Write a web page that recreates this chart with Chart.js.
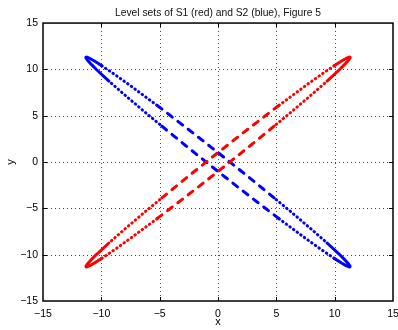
<!DOCTYPE html>
<html>
<head>
<meta charset="utf-8">
<script src="https://cdn.jsdelivr.net/npm/chart.js@4.4.1/dist/chart.umd.min.js"></script>
<style>
  html, body { margin: 0; padding: 0; background: #fff; overflow: hidden; }
  #wrap { width: 398px; height: 330px; }
</style>
</head>
<body>
<div id="wrap"><canvas id="levelSets" width="398" height="330"></canvas></div>
<script>
// Level set of S1 (red): thin closed curve along y = x
const redX = [11.31, 11.28, 11.20, 10.98, 10.59, 9.96, 8.74, 7.55, 6.38, 5.21, 4.06, 2.91, 1.76, 0.63, -0.51,
  -1.64, -2.76, -3.88, -4.99, -6.10, -7.19, -8.28, -9.35, -10.40, -10.90, -11.18, -11.30, -11.32, -11.31,
  -11.28, -11.20, -10.98, -10.59, -9.96, -8.74, -7.55, -6.38, -5.21, -4.06, -2.91, -1.76, -0.63, 0.51,
  1.64, 2.76, 3.88, 4.99, 6.10, 7.19, 8.28, 9.35, 10.40, 10.90, 11.18, 11.30, 11.32, 11.31];
const redY = [11.31, 11.32, 11.30, 11.18, 10.90, 10.40, 9.35, 8.28, 7.19, 6.10, 4.99, 3.88, 2.76, 1.64, 0.51,
  -0.63, -1.76, -2.91, -4.06, -5.21, -6.38, -7.55, -8.74, -9.96, -10.59, -10.98, -11.20, -11.28, -11.31,
  -11.32, -11.30, -11.18, -10.90, -10.40, -9.35, -8.28, -7.19, -6.10, -4.99, -3.88, -2.76, -1.64, -0.51,
  0.63, 1.76, 2.91, 4.06, 5.21, 6.38, 7.55, 8.74, 9.96, 10.59, 10.98, 11.20, 11.28, 11.31];

// Level set of S2 (blue): thin closed curve along y = -x
const blueX = [-11.31, -11.28, -11.20, -10.98, -10.59, -9.96, -8.74, -7.55, -6.38, -5.21, -4.06, -2.91, -1.76, -0.63, 0.51,
  1.64, 2.76, 3.88, 4.99, 6.10, 7.19, 8.28, 9.35, 10.40, 10.90, 11.18, 11.30, 11.32, 11.31,
  11.28, 11.20, 10.98, 10.59, 9.96, 8.74, 7.55, 6.38, 5.21, 4.06, 2.91, 1.76, 0.63, -0.51,
  -1.64, -2.76, -3.88, -4.99, -6.10, -7.19, -8.28, -9.35, -10.40, -10.90, -11.18, -11.30, -11.32, -11.31];
const blueY = [11.31, 11.32, 11.30, 11.18, 10.90, 10.40, 9.35, 8.28, 7.19, 6.10, 4.99, 3.88, 2.76, 1.64, 0.51,
  -0.63, -1.76, -2.91, -4.06, -5.21, -6.38, -7.55, -8.74, -9.96, -10.59, -10.98, -11.20, -11.28, -11.31,
  -11.32, -11.30, -11.18, -10.90, -10.40, -9.35, -8.28, -7.19, -6.10, -4.99, -3.88, -2.76, -1.64, -0.51,
  0.63, 1.76, 2.91, 4.06, 5.21, 6.38, 7.55, 8.74, 9.96, 10.59, 10.98, 11.20, 11.28, 11.31];

// Axis ticks (same on both axes)
const tickValues = [-15, -10, -5, 0, 5, 10, 15];
const gridValues = [-10, -5, 0, 5, 10];

const FONT = "'Liberation Sans', Arial, Helvetica, sans-serif";

const toPoints = (xs, ys) => xs.map((x, i) => ({ x: x, y: ys[i] }));

// markers are dense near the tips and broken into dashes in the middle
function segmentDash(ctx) {
  const mid = Math.abs(ctx.p0.parsed.x + ctx.p1.parsed.x) / 2;
  if (mid >= 9.5) return [];
  if (mid >= 5.5) return [0.5, 4];
  return [6, 7];
}

function fmtTick(value) {
  return value < 0 ? '\u2212' + Math.abs(value) : String(value);
}

// MATLAB style axes: dotted grid, box frame, inward tick marks
const matlabAxes = {
  id: 'matlabAxes',
  beforeDatasetsDraw(chart) {
    const { ctx, chartArea: a, scales: { x, y } } = chart;
    ctx.save();
    ctx.strokeStyle = '#444';
    ctx.lineWidth = 1;
    ctx.setLineDash([1, 3]);
    gridValues.forEach(v => {
      const px = Math.round(x.getPixelForValue(v)) + 0.5;
      ctx.beginPath();
      ctx.moveTo(px, a.top);
      ctx.lineTo(px, a.bottom);
      ctx.stroke();
      const py = Math.round(y.getPixelForValue(v)) + 0.5;
      ctx.beginPath();
      ctx.moveTo(a.left, py);
      ctx.lineTo(a.right, py);
      ctx.stroke();
    });
    ctx.restore();
  },
  afterDatasetsDraw(chart) {
    const { ctx, chartArea: a, scales: { x, y } } = chart;
    const len = 4;
    ctx.save();
    ctx.strokeStyle = '#000';
    ctx.lineWidth = 1;
    gridValues.forEach(v => {
      const px = Math.round(x.getPixelForValue(v)) + 0.5;
      ctx.beginPath();
      ctx.moveTo(px, a.bottom); ctx.lineTo(px, a.bottom - len);
      ctx.moveTo(px, a.top); ctx.lineTo(px, a.top + len);
      ctx.stroke();
      const py = Math.round(y.getPixelForValue(v)) + 0.5;
      ctx.beginPath();
      ctx.moveTo(a.left, py); ctx.lineTo(a.left + len, py);
      ctx.moveTo(a.right, py); ctx.lineTo(a.right - len, py);
      ctx.stroke();
    });
    ctx.lineWidth = 1.5;
    ctx.strokeRect(a.left, a.top, a.right - a.left, a.bottom - a.top);
    ctx.restore();
  }
};

const canvas = document.getElementById('levelSets');
const chart = new Chart(canvas.getContext('2d'), {
  type: 'scatter',
  data: {
    datasets: [
      {
        label: 'S1',
        data: toPoints(redX, redY),
        showLine: true,
        borderColor: '#ff0000',
        borderWidth: 3,
        borderCapStyle: 'round',
        borderJoinStyle: 'round',
        pointRadius: 0,
        tension: 0,
        order: 0,
        segment: { borderDash: segmentDash }
      },
      {
        label: 'S2',
        data: toPoints(blueX, blueY),
        showLine: true,
        borderColor: '#0000ff',
        borderWidth: 3,
        borderCapStyle: 'round',
        borderJoinStyle: 'round',
        pointRadius: 0,
        tension: 0,
        order: 1,
        segment: { borderDash: segmentDash }
      }
    ]
  },
  options: {
    responsive: false,
    animation: false,
    devicePixelRatio: 1,
    layout: { padding: { left: 0, right: 5, top: 0, bottom: 0 } },
    plugins: {
      legend: { display: false },
      tooltip: { enabled: false },
      title: {
        display: true,
        fullSize: false,
        text: 'Level sets of S1 (red) and S2 (blue), Figure 5',
        color: '#111',
        font: { family: FONT, size: 10.3, weight: 'normal', lineHeight: 1.2 },
        padding: { top: 6.5, bottom: 4.2 }
      }
    },
    scales: {
      x: {
        type: 'linear',
        min: -15,
        max: 15,
        afterBuildTicks: s => { s.ticks = tickValues.map(v => ({ value: v })); },
        afterFit: s => { s.height = 29; s.paddingLeft = 0; s.paddingRight = 0; },
        grid: { display: false, drawTicks: false },
        border: { display: false },
        ticks: {
          color: '#000',
          padding: 7,
          maxRotation: 0,
          autoSkip: false,
          font: { family: FONT, size: 10.5 },
          callback: fmtTick
        },
        title: {
          display: true,
          text: 'x',
          color: '#000',
          font: { family: FONT, size: 11 },
          padding: { top: 0, bottom: 1 }
        }
      },
      y: {
        type: 'linear',
        min: -15,
        max: 15,
        afterBuildTicks: s => { s.ticks = tickValues.map(v => ({ value: v })); },
        afterFit: s => { s.width = 43; },
        grid: { display: false, drawTicks: false },
        border: { display: false },
        ticks: {
          color: '#000',
          padding: 5,
          autoSkip: false,
          font: { family: FONT, size: 10.5 },
          callback: fmtTick
        },
        title: {
          display: true,
          text: 'y',
          color: '#000',
          font: { family: FONT, size: 11 },
          padding: { top: 4, bottom: 0 }
        }
      }
    }
  },
  plugins: [matlabAxes]
});
</script>
</body>
</html>
